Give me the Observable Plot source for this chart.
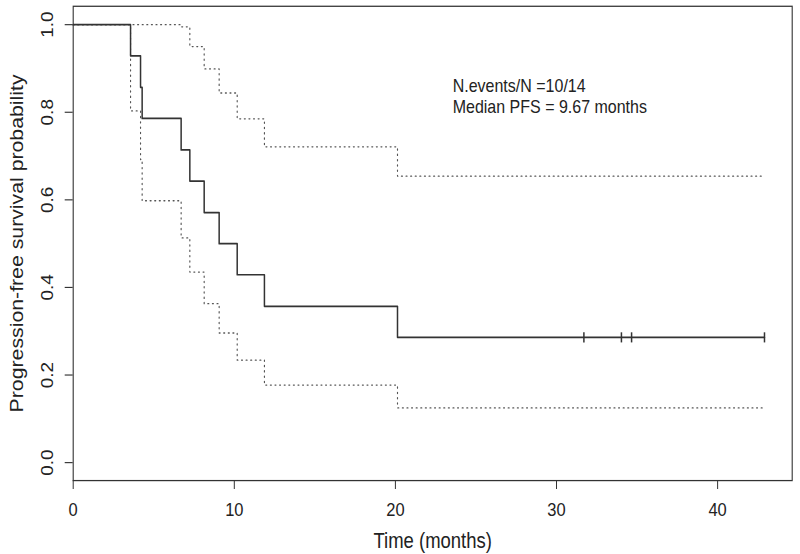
<!DOCTYPE html>
<html><head><meta charset="utf-8">
<script src="https://cdn.jsdelivr.net/npm/d3@7"></script>
<script src="https://cdn.jsdelivr.net/npm/@observablehq/plot@0.6"></script>
<style>body{margin:0;background:#fff;overflow:hidden;}</style>
</head><body><div id="chart"></div>
<script>
// Kaplan–Meier step values
const stepTimes = [0, 3.56, 4.18, 4.28, 6.70, 7.24, 8.13, 9.06, 10.18, 11.87, 20.13];
const survival  = [1, 0.929, 0.857, 0.786, 0.714, 0.643, 0.571, 0.500, 0.429, 0.357, 0.286];
const upperCI   = [1, 1, 1, 1, 0.995, 0.950, 0.899, 0.844, 0.785, 0.721, 0.654];
const lowerCI   = [1, 0.803, 0.692, 0.598, 0.513, 0.435, 0.363, 0.296, 0.234, 0.177, 0.125];
const lastTime  = 42.91;
const censorTimes = [31.70, 34.03, 34.66, 42.91];
const censorSurv  = [0.286, 0.286, 0.286, 0.286];
const xTicks = [0, 10, 20, 30, 40];
const yTicks = [0, 0.2, 0.4, 0.6, 0.8, 1.0];
const annotation = ["N.events/N =10/14", "Median PFS = 9.67 months"];

const toRows = (vals) => {
  const rows = stepTimes.map((t, i) => ({t, s: vals[i]}));
  rows.push({t: lastTime, s: vals[vals.length - 1]});
  return rows;
};
const km = toRows(survival), up = toRows(upperCI), lo = toRows(lowerCI);
const censors = censorTimes.map((t, i) => ({t, s: censorSurv[i]}));

// the original graphic looks vertically stretched; draw shorter and stretch
const K = 1.15;
const H = 554 / K;

const vbar = {draw(ctx, size) { const h = 4.4; ctx.moveTo(0, -h); ctx.lineTo(0, h); }};

const chart = Plot.plot({
  width: 800, height: H,
  marginLeft: 72.7, marginRight: 8.3, marginTop: 5.7 / K, marginBottom: 74 / K,
  style: {fontFamily: "'Liberation Sans', Arial, sans-serif", fontSize: "16.5px", color: "#222", background: "#fff"},
  x: {domain: [0, 44.63]},
  y: {domain: [-0.041, 1.042]},
  marks: [
    Plot.frame({stroke: "#333", strokeWidth: 1.1}),
    Plot.axisX({ticks: xTicks, tickSize: 9 / K, tickPadding: 11, tickFormat: d => String(d), fontSize: 16.5,
      label: null, stroke: "#333"}),
    Plot.axisX({ticks: [], label: "Time (months)", labelAnchor: "center", labelArrow: "none",
      labelOffset: 58.5, fontSize: 18.5}),
    Plot.axisY({ticks: yTicks, tickSize: 8, tickPadding: 12, tickRotate: -90, tickFormat: d3.format(".1f"), fontSize: 16.5,
      label: null, stroke: "#333"}),
    Plot.axisY({ticks: [], label: "Progression-free survival probability", labelAnchor: "center", labelArrow: "none",
      labelOffset: 63, fontSize: 18.5}),
    Plot.line(up, {x: "t", y: "s", curve: "step-after", stroke: "#555", strokeWidth: 1.15, strokeDasharray: "1,3.6"}),
    Plot.line(lo, {x: "t", y: "s", curve: "step-after", stroke: "#555", strokeWidth: 1.15, strokeDasharray: "1,3.6"}),
    Plot.line(km, {x: "t", y: "s", curve: "step-after", stroke: "#333", strokeWidth: 1.5}),
    Plot.dot(censors, {x: "t", y: "s", symbol: vbar, stroke: "#333", strokeWidth: 1.5, fill: "none", r: 5}),
    Plot.text([annotation.join("\n")], {frameAnchor: "top-left", dx: 379.5, dy: 61, textAnchor: "start",
      lineAnchor: "top", lineHeight: 1.16, fontSize: 16, fill: "#222"})
  ]
});
chart.setAttribute("height", 554);
chart.setAttribute("preserveAspectRatio", "none");
chart.style.width = "800px";
chart.style.height = "554px";
chart.style.maxWidth = "none";
document.getElementById("chart").append(chart);
</script></body></html>
